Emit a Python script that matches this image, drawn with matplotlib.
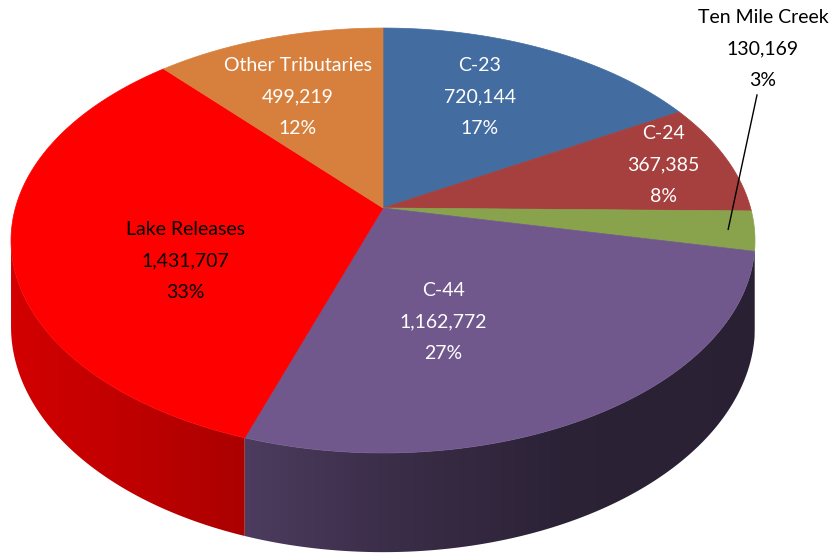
import numpy as np
import matplotlib

matplotlib.use('Agg')
import matplotlib.pyplot as plt
from matplotlib.patches import Polygon

# -----------------------------
# Data
# -----------------------------
labels = ["C-23", "C-24", "Ten Mile Creek", "C-44", "Lake Releases", "Other Tributaries"]
values = [720144, 367385, 130169, 1162772, 1431707, 499219]
percents = [17, 8, 3, 27, 33, 12]

colors = ["#436ca0", "#a5403e", "#88a34c", "#71588c", "#fe0000", "#d7803d"]
text_colors = ["white", "white", "black", "white", "black", "white"]

# label anchor (middle line) in pixel coords
label_xy = [(480, 97), (663, 165), (763, 49), (443, 322), (185, 261), (298, 97)]

# -----------------------------
# 3D pie geometry (simple perspective)
# -----------------------------
W, Hpx = 830, 556
cx, cy = 383, 208
A, B, k = 367.6, 207.5, 0.153
depth = 84


def proj(phi, r=1.0, drop=0.0):
    u = r * np.sin(phi)
    v = -r * np.cos(phi)
    s = 1.0 / (1.0 - k * v)
    return cx + A * u * s, cy + B * v * s + drop * s


def shade(x):
    # side wall gets darker from left to right
    return np.interp(x, [12, 250, 400, 560, 760], [0.83, 0.67, 0.51, 0.39, 0.37])


fig = plt.figure(figsize=(8.3, 5.56), dpi=100)
ax = fig.add_axes([0, 0, 1, 1])

total = sum(values)
bounds = np.concatenate([[0], np.cumsum(values)]) / total * 2 * np.pi

# visible part of the side wall (between the two silhouette points)
lo = np.pi / 2 + np.arcsin(k)
hi = 3 * np.pi / 2 - np.arcsin(k)

xs = np.arange(W) + 0.5
for i in range(len(values)):
    a, b = max(bounds[i], lo), min(bounds[i + 1], hi)
    if a >= b:
        continue
    phis = np.linspace(a, b, 300)
    top = [proj(p) for p in phis]
    bot = [proj(p, drop=depth) for p in phis[::-1]]
    band = Polygon(top + bot, closed=True, facecolor='none', edgecolor='none')
    ax.add_patch(band)
    base = np.array(matplotlib.colors.to_rgb(colors[i]))
    row = base[None, :] * shade(xs)[:, None]
    img = np.repeat(row[None, :, :], 2, axis=0)
    im = ax.imshow(img, extent=(0, W, Hpx, 0), aspect='auto', interpolation='bilinear', zorder=1)
    im.set_clip_path(band)

ax.set_xlim(0, W)
ax.set_ylim(Hpx, 0)
ax.axis('off')

# top faces
for i in range(len(values)):
    phis = np.linspace(bounds[i], bounds[i + 1], 200)
    pts = [(cx, cy)] + [proj(p) for p in phis]
    ax.add_patch(Polygon(pts, closed=True, facecolor=colors[i], edgecolor=colors[i],
                         linewidth=0.5, zorder=2))

# labels
font = ['Lato', 'DejaVu Sans']
for i, lab in enumerate(labels):
    x, y = label_xy[i]
    txt = f"{lab}\n{values[i]:,}\n{percents[i]}%"
    ax.text(x, y, txt, ha='center', va='center', fontsize=14, color=text_colors[i],
            family=font, linespacing=2.05, zorder=5)

# leader line for the small slice
mid = (bounds[2] + bounds[3]) / 2
end = proj(mid, r=0.93)
ax.plot([757, end[0]], [95, end[1]], color='black', linewidth=1.0, zorder=4)

fig.savefig("out.png", dpi=100)
